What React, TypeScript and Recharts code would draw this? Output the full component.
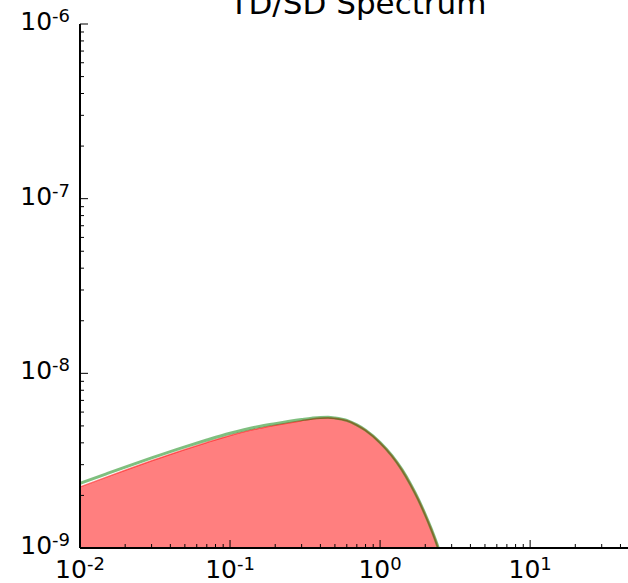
import React from "react";
import { ComposedChart, Area, Line, XAxis, YAxis } from "recharts";

// frequency grid and the two spectra
const FREQ = [0.01, 0.015, 0.02, 0.03, 0.05, 0.07, 0.1, 0.15, 0.2, 0.3, 0.35, 0.4, 0.45, 0.5, 0.6, 0.7, 0.8, 1.0, 1.2, 1.4, 1.6, 1.8, 2.0, 2.2, 2.4, 2.5];
const SD = [2.237e-9, 2.545e-9, 2.788e-9, 3.156e-9, 3.667e-9, 4.021e-9, 4.406e-9, 4.806e-9, 5.04e-9, 5.36e-9, 5.48e-9, 5.55e-9, 5.57e-9, 5.54e-9, 5.38e-9, 5.07e-9, 4.73e-9, 4.02e-9, 3.38e-9, 2.81e-9, 2.31e-9, 1.9e-9, 1.555e-9, 1.278e-9, 1.047e-9, 9.37e-10];
const TD = [2.343e-9, 2.658e-9, 2.904e-9, 3.279e-9, 3.795e-9, 4.15e-9, 4.536e-9, 4.928e-9, 5.147e-9, 5.438e-9, 5.538e-9, 5.594e-9, 5.6e-9, 5.554e-9, 5.38e-9, 5.07e-9, 4.73e-9, 4.02e-9, 3.38e-9, 2.81e-9, 2.31e-9, 1.9e-9, 1.555e-9, 1.278e-9, 1.047e-9, 9.37e-10];

const X_MAJOR = [0.01, 0.1, 1, 10];
const X_MAJOR_EXP = ["-2", "-1", "0", "1"];
const X_MINOR = [0.02, 0.03, 0.04, 0.05, 0.06, 0.07, 0.08, 0.09, 0.2, 0.3, 0.4, 0.5, 0.6, 0.7, 0.8, 0.9, 2, 3, 4, 5, 6, 7, 8, 9, 20, 30, 40];
const Y_MAJOR = [1e-9, 1e-8, 1e-7, 1e-6];
const Y_MAJOR_EXP = ["-9", "-8", "-7", "-6"];
const Y_MINOR = [2e-9, 3e-9, 4e-9, 5e-9, 6e-9, 7e-9, 8e-9, 9e-9, 2e-8, 3e-8, 4e-8, 5e-8, 6e-8, 7e-8, 8e-8, 9e-8, 2e-7, 3e-7, 4e-7, 5e-7, 6e-7, 7e-7, 8e-7, 9e-7];

const data = FREQ.map((f, i) => ({ f, sd: SD[i], td: TD[i] }));

const FONT = "'DejaVu Sans', sans-serif";
const MAJOR_LEN = 8;
const MINOR_LEN = 4;

function tickLabel(exp: string, x: number, y: number, anchor: "middle" | "end") {
  return (
    <text x={x} y={y} textAnchor={anchor} fontFamily={FONT} fontSize={25} fill="#000">
      10<tspan fontSize={18} dy={-8}>{exp}</tspan>
    </text>
  );
}

function XTick(props: any) {
  const { x, y, payload, side } = props;
  const i = X_MAJOR.indexOf(payload.value);
  const len = i >= 0 ? MAJOR_LEN : MINOR_LEN;
  const dir = side === "top" ? 1 : -1;
  return (
    <g>
      <line x1={x} x2={x} y1={y} y2={y + dir * len} stroke="#000" strokeWidth={1} />
      {side !== "top" && i >= 0 ? tickLabel(X_MAJOR_EXP[i], x, y + 30, "middle") : null}
    </g>
  );
}

function YTick(props: any) {
  const { x, y, payload } = props;
  const i = Y_MAJOR.indexOf(payload.value);
  const len = i >= 0 ? MAJOR_LEN : MINOR_LEN;
  return (
    <g>
      <line x1={x} x2={x + len} y1={y} y2={y} stroke="#000" strokeWidth={1} />
      {i >= 0 ? tickLabel(Y_MAJOR_EXP[i], x - 10, y + 6, "end") : null}
    </g>
  );
}

export default function App() {
  const xTicks = [...X_MAJOR, ...X_MINOR];
  const yTicks = [...Y_MAJOR, ...Y_MINOR];
  const axisLine = { stroke: "#000", strokeWidth: 2 };
  return (
    <div style={{ position: "fixed", left: 0, top: 0, width: 628, height: 583, overflow: "hidden", background: "#fff" }}>
      <ComposedChart width={660} height={583} data={data} margin={{ top: 24, right: 25, bottom: 0, left: 0 }}>
        <XAxis
          xAxisId="b" dataKey="f" type="number" scale="log" domain={[0.01, 50]} allowDataOverflow
          ticks={xTicks} interval={0} tickSize={0} tickMargin={0} tickLine={false} axisLine={axisLine}
          height={35} tick={(p: any) => <XTick {...p} side="bottom" />}
        />
        <XAxis
          xAxisId="t" orientation="top" dataKey="f" type="number" scale="log" domain={[0.01, 50]} allowDataOverflow
          ticks={xTicks} interval={0} tickSize={0} tickMargin={0} tickLine={false} axisLine={axisLine}
          height={0} tick={(p: any) => <XTick {...p} side="top" />}
        />
        <YAxis
          yAxisId="l" type="number" scale="log" domain={[1e-9, 1e-6]} allowDataOverflow
          ticks={yTicks} interval={0} tickSize={0} tickMargin={0} tickLine={false} axisLine={axisLine}
          width={80} tick={(p: any) => <YTick {...p} />}
        />
        <Area
          xAxisId="b" yAxisId="l" dataKey="sd" type="monotone"
          fill="#ff0000" fillOpacity={0.5} stroke="#ff0000" strokeOpacity={0.5} strokeWidth={1.5}
          isAnimationActive={false} dot={false} activeDot={false}
        />
        <Line
          xAxisId="b" yAxisId="l" dataKey="td" type="monotone"
          stroke="#008000" strokeOpacity={0.5} strokeWidth={3}
          isAnimationActive={false} dot={false} activeDot={false}
        />
        <text x={358} y={14} textAnchor="middle" fontFamily={FONT} fontSize={31} fill="#000">
          TD/SD Spectrum
        </text>
      </ComposedChart>
    </div>
  );
}
